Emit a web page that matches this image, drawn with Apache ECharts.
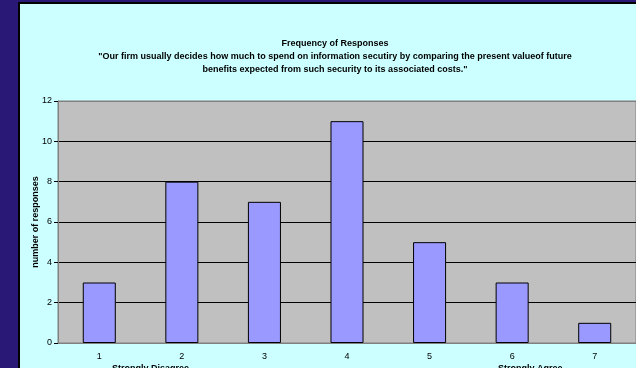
<!DOCTYPE html>
<html>
<head>
<meta charset="utf-8">
<script src="https://cdn.jsdelivr.net/npm/echarts@6/dist/echarts.min.js"></script>
<style>
  html, body { margin: 0; padding: 0; background: #2a1877; }
  #chart { width: 636px; height: 368px; }
</style>
</head>
<body>
<div id="chart"></div>
<script>
// data
const categories = ["1", "2", "3", "4", "5", "6", "7"];
const responses = [3, 8, 7, 11, 5, 3, 1];
const titleLines = [
  "Frequency of Responses",
  "\"Our firm usually decides how much to spend on information secutiry by comparing the present valueof future",
  "benefits expected from such security to its associated costs.\""
];
const scaleEnds = ["Strongly Disagree", "Strongly Agree"];

const chart = echarts.init(document.getElementById("chart"));

const font = "Liberation Sans, Arial, sans-serif";

const option = {
  backgroundColor: "#2a1877",
  animation: false,
  graphic: [
    // black frame + cyan chart area
    { type: "rect", z: -10, shape: { x: 18, y: 2, width: 640, height: 400 }, style: { fill: "#000000" } },
    { type: "rect", z: -9, shape: { x: 20, y: 4, width: 640, height: 400 }, style: { fill: "#ccffff" } },
    {
      type: "text", left: 112, top: 364, z: 10,
      style: { text: scaleEnds[0], fontSize: 9, fontWeight: "bold", fontFamily: font, fill: "#000" }
    },
    {
      type: "text", left: 498, top: 364, z: 10,
      style: { text: scaleEnds[1], fontSize: 9, fontWeight: "bold", fontFamily: font, fill: "#000" }
    }
  ],
  title: {
    text: titleLines.join("\n"),
    left: 330,
    top: 32,
    textAlign: "center",
    textStyle: {
      fontSize: 9,
      fontWeight: "bold",
      fontFamily: font,
      color: "#000",
      lineHeight: 13
    }
  },
  grid: {
    left: 58,
    top: 101,
    right: -3,
    bottom: 25,
    show: true,
    backgroundColor: "#c0c0c0",
    borderColor: "#808080",
    borderWidth: 1
  },
  xAxis: {
    type: "category",
    data: categories,
    axisLine: { lineStyle: { color: "#808080", width: 1 } },
    axisTick: { length: 3, lineStyle: { color: "#000" } },
    axisLabel: { fontSize: 9, color: "#000", fontFamily: font, margin: 9 }
  },
  yAxis: {
    type: "value",
    min: 0,
    max: 12,
    interval: 2,
    name: "number of responses",
    nameLocation: "middle",
    nameGap: 18,
    nameMoveOverlap: false,
    nameTextStyle: { fontSize: 9, fontWeight: "bold", fontFamily: font, color: "#000" },
    axisLine: { show: true, lineStyle: { color: "#808080" } },
    axisTick: { show: true, length: 4, lineStyle: { color: "#000" } },
    axisLabel: { fontSize: 9, color: "#000", fontFamily: font, margin: 6 },
    splitLine: {
      show: true,
      lineStyle: {
        color: ["#808080", "#000", "#000", "#000", "#000", "#000", "#808080"],
        width: 1
      }
    }
  },
  series: [
    {
      type: "bar",
      data: responses,
      barWidth: "40%",
      itemStyle: {
        color: "#9999ff",
        borderColor: "#000",
        borderWidth: 1
      }
    }
  ]
};

chart.setOption(option);
</script>
</body>
</html>
